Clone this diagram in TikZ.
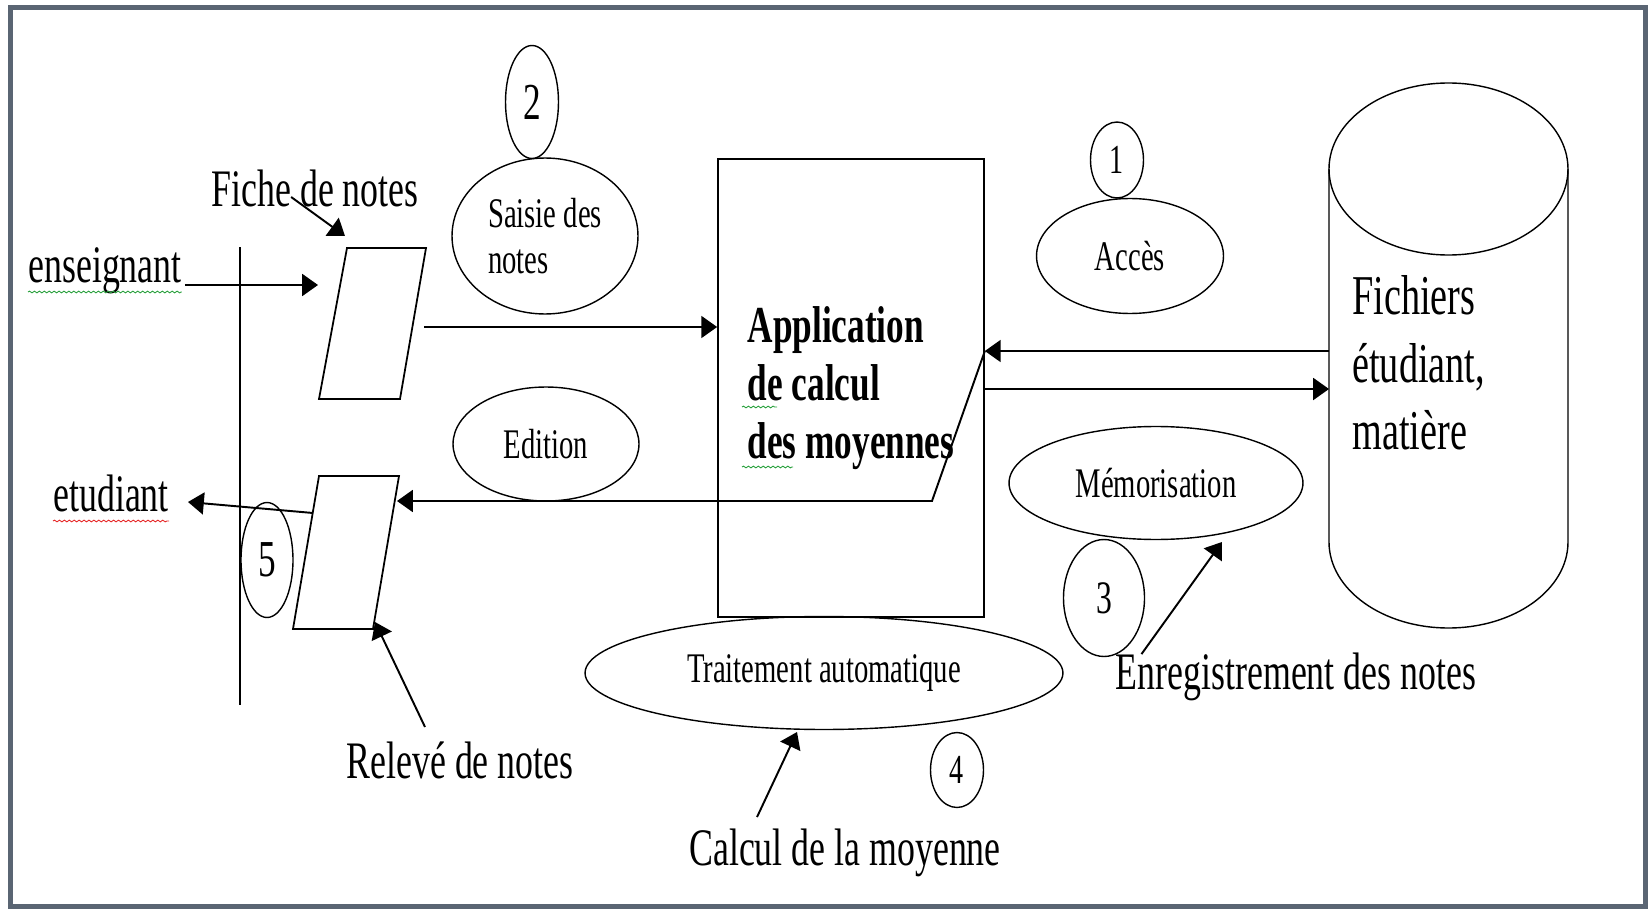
\documentclass[tikz,border=0pt]{standalone}
\usepackage{fontspec}
\setmainfont{Liberation Serif}[FakeStretch=0.68]
\usepackage{xcolor}
\definecolor{framegray}{RGB}{90,101,115}
\definecolor{spellgreen}{RGB}{40,160,60}
\definecolor{spellred}{RGB}{230,40,40}
\usetikzlibrary{arrows.meta,positioning,shapes.geometric,calc,decorations.pathmorphing}

\begin{document}
\begin{tikzpicture}[x=0.02cm, y=-0.02cm,
  proc/.style={ellipse, draw, line width=0.8pt, inner sep=0pt, font=\fontsize{24}{26}\selectfont},
  num/.style={ellipse, draw, line width=0.8pt, inner sep=0pt},
  lbl/.style={inner sep=0pt, font=\fontsize{30}{36}\selectfont},
  arr/.style={-{Triangle[length=9pt,width=12.5pt]}, line width=1.1pt},
  squig/.style={decorate, decoration={snake, amplitude=0.5pt, segment length=2.8pt}, line width=0.5pt}]

  \useasboundingbox (0,0) rectangle (1651,909);
  \draw[framegray, line width=2.8pt] (10.5,7.5) rectangle (1645.5,906.5);

  % application
  \node[draw, line width=1pt, minimum width=5.32cm, minimum height=9.16cm, align=left, font=\fontsize{29.5}{33}\selectfont\bfseries] (box) at (851,388) {Application\\de calcul\\des moyennes};

  % fichiers
  \draw[line width=0.8pt] (1329,169) -- (1329,542) arc[start angle=180, end angle=0, x radius=119.5, y radius=86] -- (1568,169);
  \draw[line width=0.8pt] (1448.5,169) ellipse[x radius=119.5, y radius=86];
  \node[lbl, font=\fontsize{32}{38.5}\selectfont, align=left, anchor=north west] (fichtxt) at (1352,275) {Fichiers\\étudiant,\\matière};
  \coordinate (cyl-a) at (1329,351);
  \coordinate (cyl-b) at (1329,389);

  % processus
  \node[proc, minimum width=3.72cm, minimum height=3.12cm, align=left] (saisie) at (545,236) {Saisie des\\notes};
  \node[proc, minimum width=3.72cm, minimum height=2.28cm] (edit) at (546,444) {Edition};
  \node[proc, minimum width=3.74cm, minimum height=2.3cm] (acces) at (1130,256) {Accès};
  \node[proc, minimum width=5.88cm, minimum height=2.26cm] (memo) at (1156,483) {Mémorisation};
  \node[proc, minimum width=9.56cm, minimum height=2.26cm] (trait) at (824,673) {Traitement automatique};

  \node[num, minimum width=1.06cm, minimum height=2.26cm, font=\fontsize{29.5}{30}\selectfont] (n2) at (532,102) {2};
  \node[num, minimum width=1.06cm, minimum height=1.52cm, font=\fontsize{23.5}{24}\selectfont] (n1) at (1117,160) {1};
  \node[num, minimum width=1.62cm, minimum height=2.34cm, font=\fontsize{26.5}{27}\selectfont] (n3) at (1104,598) {3};
  \node[num, minimum width=1.06cm, minimum height=1.5cm, font=\fontsize{23.5}{24}\selectfont] (n4) at (957,770) {4};
  \node[num, minimum width=1.04cm, minimum height=2.3cm, font=\fontsize{29.5}{30}\selectfont] (n5) at (267,560) {5};

  % fiche et releve
  \draw[line width=1pt] (347,248) -- (426,248) -- (400,399) -- (319,399) -- cycle;
  \draw[line width=1pt] (319,476) -- (399,476) -- (373,629) -- (293,629) -- cycle;
  \coordinate (fiche-in) at (318,285);
  \coordinate (fiche-tip) at (345,236);
  \coordinate (fiche-out) at (424,327);
  \coordinate (rel-in) at (397,501);
  \coordinate (rel-out) at (313,513);
  \coordinate (rel-tip) at (375,622);
  \coordinate (etu-in) at (188,502);
  \coordinate (edit-bend) at (932,501);
  \coordinate (trait-tip) at (797,732);
  \coordinate (memo-tip) at (1222,542);

  \draw[line width=0.9pt] (240,247) -- (240,705);

  % labels
  \node[lbl, anchor=base] (fiche) at (315,207) {Fiche de notes};
  \node[lbl, anchor=base west] (ens) at (28,282) {enseignant};
  \node[lbl, anchor=base west] (etu) at (53,511) {etudiant};
  \node[lbl, anchor=base] (rel) at (460,778) {Relevé de notes};
  \node[lbl, anchor=base] (calc) at (845,865) {Calcul de la moyenne};
  \node[lbl, anchor=base] (enr) at (1296,689) {Enregistrement des notes};

  \draw[squig, spellgreen] ($(ens.base west)+(0,10)$) -- ($(ens.base east)+(0,10)$);
  \draw[squig, spellred] ($(etu.base west)+(0,10)$) -- ($(etu.base east)+(0,10)$);
  \draw[squig, spellgreen] (742,407) -- (777,407);
  \draw[squig, spellgreen] (742,467) -- (793,467);

  % flux
  \draw[arr] ($(ens.base east)+(3,3)$) -- (fiche-in);
  \draw[arr] ($(fiche.base west)+(80,-10)$) -- (fiche-tip);
  \draw[arr] (fiche-out) -- (fiche-out -| box.west);
  \draw[arr] (cyl-a) -- (cyl-a -| box.east);
  \draw[arr] (cyl-b -| box.east) -- (cyl-b);
  \draw[arr] (cyl-a -| box.east) -- (edit-bend) -- (rel-in);
  \draw[arr] (rel-out) -- (etu-in);
  \draw[arr] ($(rel.north)+(-35,-14)$) -- (rel-tip);
  \draw[arr] ($(calc.north)+(-88,-11)$) -- (trait-tip);
  \draw[arr] ($(enr.north west)+(26,2)$) -- (memo-tip);
\end{tikzpicture}
\end{document}
